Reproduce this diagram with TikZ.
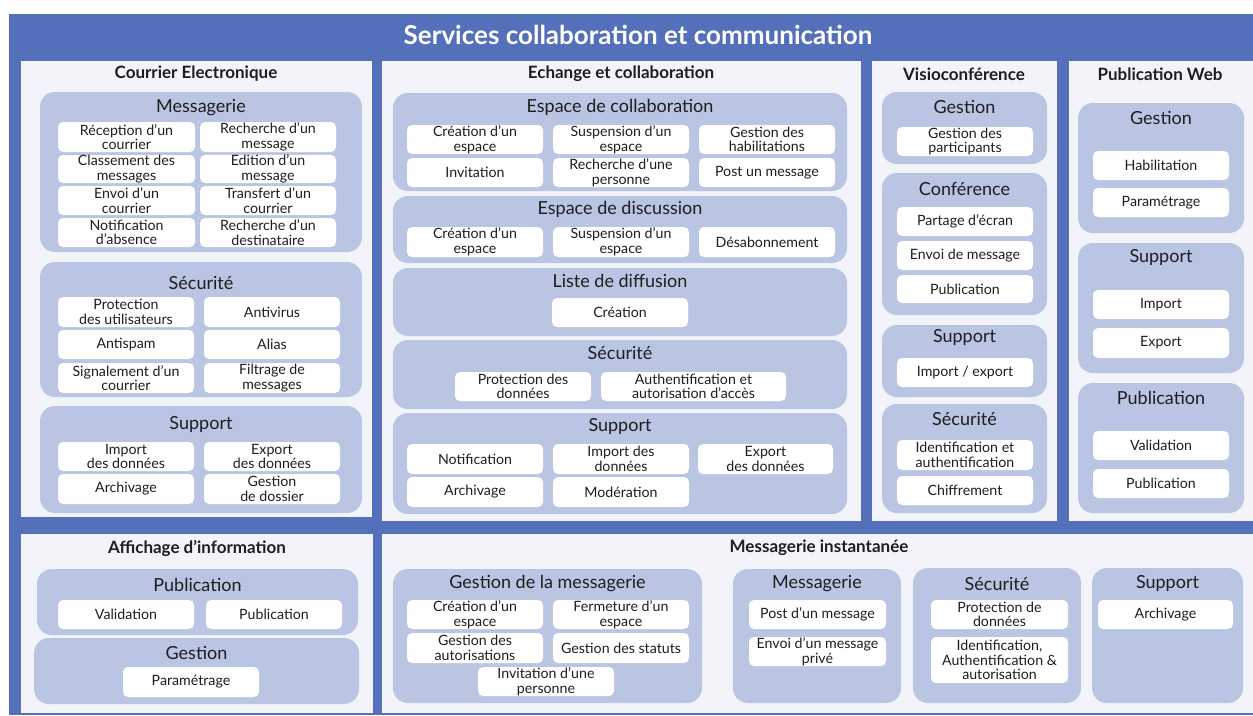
\documentclass[tikz,border=0pt]{standalone}
\usepackage{fontspec}
\setmainfont{Lato}
\definecolor{bgblue}{RGB}{84,112,187}
\definecolor{panelc}{RGB}{243,244,249}
\definecolor{grpc}{RGB}{186,197,228}
\definecolor{txtc}{RGB}{30,30,30}
\tikzset{
  panelbox/.style={fill=panelc, draw=none, inner sep=0pt, rectangle},
  panelhead/.style={font=\fontsize{17}{19}\selectfont\bfseries, text=txtc, inner sep=0pt},
  grpbox/.style={fill=grpc, draw=none, rounded corners=15pt, inner sep=0pt, rectangle},
  grptitle/.style={font=\fontsize{18}{20}\selectfont, text=txtc, inner sep=0pt},
  itembox/.style={fill=white, draw=none, rounded corners=5pt, inner sep=0pt, rectangle, align=center,
    font=\fontsize{14.2}{14.6}\selectfont, text=txtc},
  maintitle/.style={font=\fontsize{26}{30}\selectfont\bfseries, text=white, inner sep=0pt}
}
\newcommand\mkpanelhead[4]{\node[panelhead] (#1) at (#2,#3) {#4};}
\newcommand\mkgrp[7]{%
  \node[grpbox, minimum width={#4-#2}, minimum height={#5-#3}] (#1) at ({(#2+#4)/2},{(#3+#5)/2}) {};
  \node[grptitle] (#1-t) at ({(#2+#4)/2},#6) {#7};
}
\newcommand\mkitem[6]{%
  \node[itembox, minimum width={#4-#2}, minimum height={#5-#3}] (#1) at ({(#2+#4)/2},{(#3+#5)/2}) {#6};
}
\begin{document}
\begin{tikzpicture}[x=1pt,y=-1pt]
\useasboundingbox (0,0) rectangle (1253,715);
\fill[white] (0,0) rectangle (1253,715);
\node[fill=bgblue, inner sep=0pt, minimum width=1244pt, minimum height=701pt] (bg) at (631,364.5) {};
\node[maintitle] (title) at (638,35) {Services collaboration et communication};

% ---------------- Courrier Electronique
\node[panelbox, minimum width=351pt, minimum height=456pt] (pce) at (196.5,289) {};
\mkpanelhead{pce-h}{196}{74}{Courrier Electronique}
\mkgrp{ce1}{40}{92}{362}{252}{108}{Messagerie}
\mkitem{ce1a}{58}{122}{195}{152}{Réception d’un\\courrier}
\mkitem{ce1b}{200}{122}{336}{152}{Recherche d’un\\message}
\mkitem{ce1c}{58}{155}{195}{183}{Classement des\\messages}
\mkitem{ce1d}{200}{155}{336}{183}{Edition d’un\\message}
\mkitem{ce1e}{58}{186}{195}{215}{Envoi d’un\\courrier}
\mkitem{ce1f}{200}{186}{336}{215}{Transfert d’un\\courrier}
\mkitem{ce1g}{58}{218}{195}{247}{Notification\\d’absence}
\mkitem{ce1h}{200}{218}{336}{247}{Recherche d’un\\destinataire}
\mkgrp{ce2}{40}{262}{362}{397}{283}{Sécurité}
\mkitem{ce2a}{58}{297}{194}{327}{Protection\\des utilisateurs}
\mkitem{ce2b}{204}{297}{340}{327}{Antivirus}
\mkitem{ce2c}{58}{330}{194}{359}{Antispam}
\mkitem{ce2d}{204}{330}{340}{359}{Alias}
\mkitem{ce2e}{58}{363}{194}{393}{Signalement d’un\\courrier}
\mkitem{ce2f}{204}{363}{340}{393}{Filtrage de\\messages}
\mkgrp{ce3}{40}{406}{362}{513}{425}{Support}
\mkitem{ce3a}{58}{442}{194}{471}{Import\\des données}
\mkitem{ce3b}{204}{442}{340}{471}{Export\\des données}
\mkitem{ce3c}{58}{474}{194}{504}{Archivage}
\mkitem{ce3d}{204}{474}{340}{504}{Gestion\\de dossier}

% ---------------- Echange et collaboration
\node[panelbox, minimum width=479pt, minimum height=460pt] (pec) at (621.5,291) {};
\mkpanelhead{pec-h}{621}{74}{Echange et collaboration}
\mkgrp{ec1}{393}{93}{847}{191}{107}{Espace de collaboration}
\mkitem{ec1a}{407}{125}{543}{154}{Création d’un\\espace}
\mkitem{ec1b}{553}{125}{689}{154}{Suspension d’un\\espace}
\mkitem{ec1c}{699}{125}{835}{154}{Gestion des\\habilitations}
\mkitem{ec1d}{407}{158}{543}{187}{Invitation}
\mkitem{ec1e}{553}{158}{689}{187}{Recherche d’une\\personne}
\mkitem{ec1f}{699}{158}{835}{187}{Post un message}
\mkgrp{ec2}{393}{196}{847}{263}{209}{Espace de discussion}
\mkitem{ec2a}{407}{227}{543}{257}{Création d’un\\espace}
\mkitem{ec2b}{553}{227}{689}{257}{Suspension d’un\\espace}
\mkitem{ec2c}{699}{227}{835}{257}{Désabonnement}
\mkgrp{ec3}{393}{268}{847}{336}{281}{Liste de diffusion}
\mkitem{ec3a}{552}{298}{688}{327}{Création}
\mkgrp{ec4}{393}{340}{847}{409}{353}{Sécurité}
\mkitem{ec4a}{455}{372}{591}{401}{Protection des\\données}
\mkitem{ec4b}{601}{372}{786}{401}{Authentification et\\autorisation d’accès}
\mkgrp{ec5}{393}{413}{847}{514}{427}{Support}
\mkitem{ec5a}{407}{444}{543}{474}{Notification}
\mkitem{ec5b}{553}{444}{689}{474}{Import des\\données}
\mkitem{ec5c}{698}{444}{833}{474}{Export\\des données}
\mkitem{ec5d}{407}{477}{543}{507}{Archivage}
\mkitem{ec5e}{553}{477}{689}{507}{Modération}

% ---------------- Visioconférence
\node[panelbox, minimum width=185pt, minimum height=460pt] (pvc) at (964.5,291) {};
\mkpanelhead{pvc-h}{964}{74}{Visioconférence}
\mkgrp{vc1}{882}{92}{1047}{164}{107}{Gestion}
\mkitem{vc1a}{897}{127}{1033}{156}{Gestion des\\participants}
\mkgrp{vc2}{882}{173}{1047}{315}{189}{Conférence}
\mkitem{vc2a}{897}{207}{1033}{236}{Partage d’écran}
\mkitem{vc2b}{897}{241}{1033}{270}{Envoi de message}
\mkitem{vc2c}{897}{275}{1033}{303}{Publication}
\mkgrp{vc3}{882}{325}{1047}{397}{338}{Support}
\mkitem{vc3a}{897}{358}{1033}{387}{Import / export}
\mkgrp{vc4}{882}{404}{1047}{513}{419}{Sécurité}
\mkitem{vc4a}{897}{440}{1033}{470}{Identification et\\authentification}
\mkitem{vc4b}{897}{476}{1033}{505}{Chiffrement}

% ---------------- Publication Web
\node[panelbox, minimum width=184pt, minimum height=460pt] (ppw) at (1161,291) {};
\mkpanelhead{ppw-h}{1160}{74}{Publication Web}
\mkgrp{pw1}{1078}{103}{1244}{233}{118}{Gestion}
\mkitem{pw1a}{1093}{151}{1229}{180}{Habilitation}
\mkitem{pw1b}{1093}{188}{1229}{217}{Paramétrage}
\mkgrp{pw2}{1078}{243}{1244}{373}{258}{Support}
\mkitem{pw2a}{1093}{290}{1229}{319}{Import}
\mkitem{pw2b}{1093}{328}{1229}{358}{Export}
\mkgrp{pw3}{1078}{383}{1244}{513}{398}{Publication}
\mkitem{pw3a}{1093}{431}{1229}{460}{Validation}
\mkitem{pw3b}{1093}{469}{1229}{498}{Publication}

% ---------------- Affichage d'information
\node[panelbox, minimum width=352pt, minimum height=179pt] (pai) at (197,623.5) {};
\mkpanelhead{pai-h}{197}{548}{Affichage d’information}
\mkgrp{ai1}{37}{569}{358}{635}{585}{Publication}
\mkitem{ai1a}{58}{600}{194}{629}{Validation}
\mkitem{ai1b}{206}{600}{342}{629}{Publication}
\mkgrp{ai2}{34}{638}{359}{704}{653}{Gestion}
\mkitem{ai2a}{123}{667}{259}{697}{Paramétrage}

% ---------------- Messagerie instantanée
\node[panelbox, minimum width=871pt, minimum height=179pt] (pmi) at (817.5,623.5) {};
\mkpanelhead{pmi-h}{819}{548}{Messagerie instantanée}
\mkgrp{mi1}{393}{569}{702}{703}{584}{Gestion de la messagerie}
\mkitem{mi1a}{407}{600}{543}{629}{Création d’un\\espace}
\mkitem{mi1b}{553}{600}{689}{629}{Fermeture d’un\\espace}
\mkitem{mi1c}{407}{633}{543}{663}{Gestion des\\autorisations}
\mkitem{mi1d}{553}{633}{689}{663}{Gestion des statuts}
\mkitem{mi1e}{478}{667}{614}{696}{Invitation d’une\\personne}
\mkgrp{mi2}{733}{569}{901}{703}{584}{Messagerie}
\mkitem{mi2a}{749}{600}{886}{629}{Post d’un message}
\mkitem{mi2b}{749}{637}{886}{666}{Envoi d’un message\\privé}
\mkgrp{mi3}{913}{568}{1081}{703}{584}{Sécurité}
\mkitem{mi3a}{931}{600}{1068}{629}{Protection de\\données}
\mkitem{mi3b}{931}{637}{1068}{683}{Identification,\\Authentification \&\\autorisation}
\mkgrp{mi4}{1092}{568}{1243}{703}{584}{Support}
\mkitem{mi4a}{1098}{600}{1233}{629}{Archivage}
\end{tikzpicture}
\end{document}
